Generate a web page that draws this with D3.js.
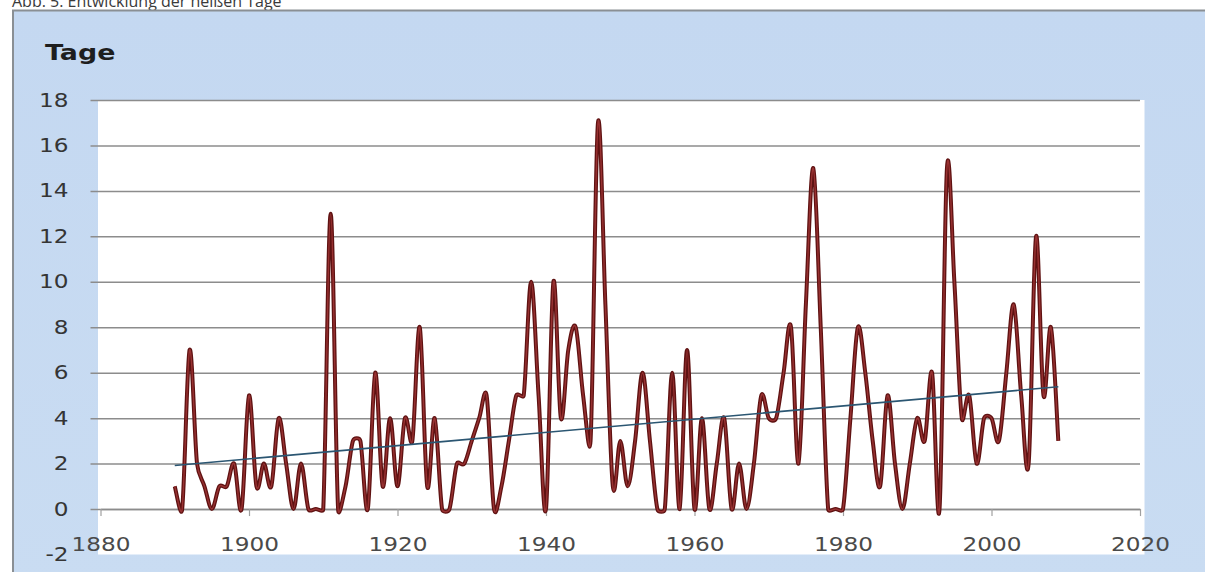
<!DOCTYPE html>
<html>
<head>
<meta charset="utf-8">
<script src="https://cdn.jsdelivr.net/npm/d3@7"></script>
<style>
  html, body { margin: 0; padding: 0; background: #ffffff; overflow: hidden; }
  svg { display: block; }
</style>
</head>
<body>
<svg id="chart" width="1205" height="572"></svg>
<script>
// Hot days per year (days at or above 30 °C)
const years = [
  1890, 1891, 1892, 1893, 1894, 1895, 1896, 1897, 1898, 1899,
  1900, 1901, 1902, 1903, 1904, 1905, 1906, 1907, 1908, 1909,
  1910, 1911, 1912, 1913, 1914, 1915, 1916, 1917, 1918, 1919,
  1920, 1921, 1922, 1923, 1924, 1925, 1926, 1927, 1928, 1929,
  1930, 1931, 1932, 1933, 1934, 1935, 1936, 1937, 1938, 1939,
  1940, 1941, 1942, 1943, 1944, 1945, 1946, 1947, 1948, 1949,
  1950, 1951, 1952, 1953, 1954, 1955, 1956, 1957, 1958, 1959,
  1960, 1961, 1962, 1963, 1964, 1965, 1966, 1967, 1968, 1969,
  1970, 1971, 1972, 1973, 1974, 1975, 1976, 1977, 1978, 1979,
  1980, 1981, 1982, 1983, 1984, 1985, 1986, 1987, 1988, 1989,
  1990, 1991, 1992, 1993, 1994, 1995, 1996, 1997, 1998, 1999,
  2000, 2001, 2002, 2003, 2004, 2005, 2006, 2007, 2008, 2009
];
const hotDays = [
  1, 0, 7, 2, 1, 0, 1, 1, 2, 0,
  5, 1, 2, 1, 4, 2, 0, 2, 0, 0,
  0, 13, 0, 1, 3, 3, 0, 6, 1, 4,
  1, 4, 3, 8, 1, 4, 0, 0, 2, 2,
  3, 4, 5, 0, 1, 3, 5, 5, 10, 5,
  0, 10, 4, 7, 8, 5, 3, 17, 9, 1,
  3, 1, 3, 6, 3, 0, 0, 6, 0, 7,
  0, 4, 0, 2, 4, 0, 2, 0, 2, 5,
  4, 4, 6, 8, 2, 9, 15, 8, 0, 0,
  0, 4, 8, 6, 3, 1, 5, 2, 0, 2,
  4, 3, 6, 0, 15, 10, 4, 5, 2, 4,
  4, 3, 6, 9, 5, 2, 12, 5, 8, 3
];
const yTicks = [-2, 0, 2, 4, 6, 8, 10, 12, 14, 16, 18];
const xTicks = [1880, 1900, 1920, 1940, 1960, 1980, 2000, 2020];
const yAxisTitle = "Tage";
const caption = "Abb. 5: Entwicklung der heißen Tage";

const svg = d3.select("#chart");

const x = d3.scaleLinear().domain([1880, 2020]).range([100.5, 1140]);
const y = d3.scaleLinear().domain([-2, 18]).range([554.5, 100]);

// caption line above the chart frame
svg.append("text")
  .attr("x", 12).attr("y", 7)
  .attr("font-family", "'Open Sans', 'Liberation Sans', sans-serif")
  .attr("font-size", 16)
  .attr("fill", "#3a3a3a")
  .text(caption);

// chart area
const defs = svg.append("defs");
const grad = defs.append("linearGradient").attr("id", "areaFill")
  .attr("x1", 0).attr("y1", 0).attr("x2", 0).attr("y2", 1);
grad.append("stop").attr("offset", "0%").attr("stop-color", "#c4d8f1");
grad.append("stop").attr("offset", "100%").attr("stop-color", "#c9dcf2");

svg.append("rect")
  .attr("x", 13).attr("y", 10.5)
  .attr("width", 1205).attr("height", 575)
  .attr("fill", "url(#areaFill)")
  .attr("stroke", "#8a8f94").attr("stroke-width", 2);

// plot area
svg.append("rect")
  .attr("x", x(1880) - 2.5).attr("y", y(18))
  .attr("width", x(2020) - x(1880) + 7)
  .attr("height", y(-2) - y(18))
  .attr("fill", "#ffffff");

const stretch = 1.22;
function widen(sel) {
  sel.each(function () {
    const w = this.getComputedTextLength();
    d3.select(this).attr("textLength", w * stretch).attr("lengthAdjust", "spacingAndGlyphs");
  });
}
const plainNumber = d => String(d);

// value axis with horizontal gridlines
const gridLeft = x(1880) - 10;
const yAxis = d3.axisLeft(y)
  .tickValues(yTicks)
  .tickFormat(plainNumber)
  .tickSizeInner(-(x(2020) - gridLeft))
  .tickSizeOuter(0)
  .tickPadding(22);

const gy = svg.append("g")
  .attr("transform", `translate(${gridLeft},0)`)
  .call(yAxis);
gy.select(".domain").remove();
gy.selectAll(".tick line")
  .attr("stroke", "#8c8c8c")
  .attr("stroke-width", 1.5)
  .attr("opacity", d => d === -2 ? 0 : 1);
gy.selectAll(".tick text")
  .attr("font-family", "'DejaVu Sans', Verdana, sans-serif")
  .attr("font-size", 19)
  .attr("fill", "#353535")
  .call(widen);

// category axis crossing at zero
const xAxis = d3.axisBottom(x)
  .tickValues(xTicks)
  .tickFormat(plainNumber)
  .tickSizeInner(7)
  .tickSizeOuter(0)
  .tickPadding(21);

const gx = svg.append("g")
  .attr("transform", `translate(0,${y(0)})`)
  .call(xAxis);
gx.select(".domain").attr("stroke", "#8c8c8c").attr("stroke-width", 1.5);
gx.selectAll(".tick line").attr("stroke", "#a0a0a0").attr("stroke-width", 1.2);
gx.selectAll(".tick text")
  .attr("font-family", "'DejaVu Sans', Verdana, sans-serif")
  .attr("font-size", 19)
  .attr("fill", "#4a4a4a")
  .call(widen);

// axis title
svg.append("text")
  .attr("x", 45).attr("y", 60)
  .attr("font-family", "'DejaVu Sans', Verdana, sans-serif")
  .attr("font-weight", "bold")
  .attr("font-size", 22)
  .attr("fill", "#1e1e1e")
  .text(yAxisTitle)
  .call(widen);

// Smoothed curve: cubic Bezier with Catmull-Rom tangents (1/6 of the
// neighbour span); each handle is capped at half of its own segment so
// short flat runs stay flat instead of looping below the baseline.
function capHandle(t, maxLen) {
  const len = Math.hypot(t[0], t[1]);
  if (len <= maxLen || len === 0) return t;
  const s = maxLen / len;
  return [t[0] * s, t[1] * s];
}
function SmoothCapped(context) { this._context = context; }
SmoothCapped.prototype = {
  areaStart() {}, areaEnd() {},
  lineStart() { this._pts = []; },
  point(px, py) { this._pts.push([+px, +py]); },
  lineEnd() {
    const p = this._pts, n = p.length, c = this._context;
    if (!n) return;
    c.moveTo(p[0][0], p[0][1]);
    if (n === 1) return;
    const tan = p.map((pt, i) => {
      const a = p[Math.max(i - 1, 0)], b = p[Math.min(i + 1, n - 1)];
      return [(b[0] - a[0]) / 6, (b[1] - a[1]) / 6];
    });
    for (let i = 0; i < n - 1; i++) {
      const p0 = p[i], p1 = p[i + 1];
      const seg = Math.hypot(p1[0] - p0[0], p1[1] - p0[1]);
      const t0 = capHandle(tan[i], 0.5 * seg);
      const t1 = capHandle(tan[i + 1], 0.5 * seg);
      c.bezierCurveTo(p0[0] + t0[0], p0[1] + t0[1], p1[0] - t1[0], p1[1] - t1[1], p1[0], p1[1]);
    }
  }
};
const curveSmoothCapped = context => new SmoothCapped(context);

// series line
const series = years.map((yr, i) => ({ year: yr, value: hotDays[i] }));
const line = d3.line()
  .x(d => x(d.year))
  .y(d => y(d.value))
  .curve(curveSmoothCapped);

svg.append("path")
  .datum(series)
  .attr("d", line)
  .attr("fill", "none")
  .attr("stroke", "#5f1212")
  .attr("stroke-width", 4)
  .attr("stroke-linejoin", "round");
svg.append("path")
  .datum(series)
  .attr("d", line)
  .attr("fill", "none")
  .attr("stroke", "#983232")
  .attr("stroke-width", 1.4)
  .attr("stroke-linejoin", "round");

// linear trend (least squares)
const mx = d3.mean(years), my = d3.mean(hotDays);
const sxy = d3.sum(years, (yr, i) => (yr - mx) * (hotDays[i] - my));
const sxx = d3.sum(years, yr => (yr - mx) * (yr - mx));
const slope = sxy / sxx;
const intercept = my - slope * mx;
const trend = [years[0], years[years.length - 1]].map(yr => ({ year: yr, value: intercept + slope * yr }));

svg.append("path")
  .datum(trend)
  .attr("d", d3.line().x(d => x(d.year)).y(d => y(d.value)))
  .attr("fill", "none")
  .attr("stroke", "#2b5672")
  .attr("stroke-width", 1.6);
</script>
</body>
</html>
